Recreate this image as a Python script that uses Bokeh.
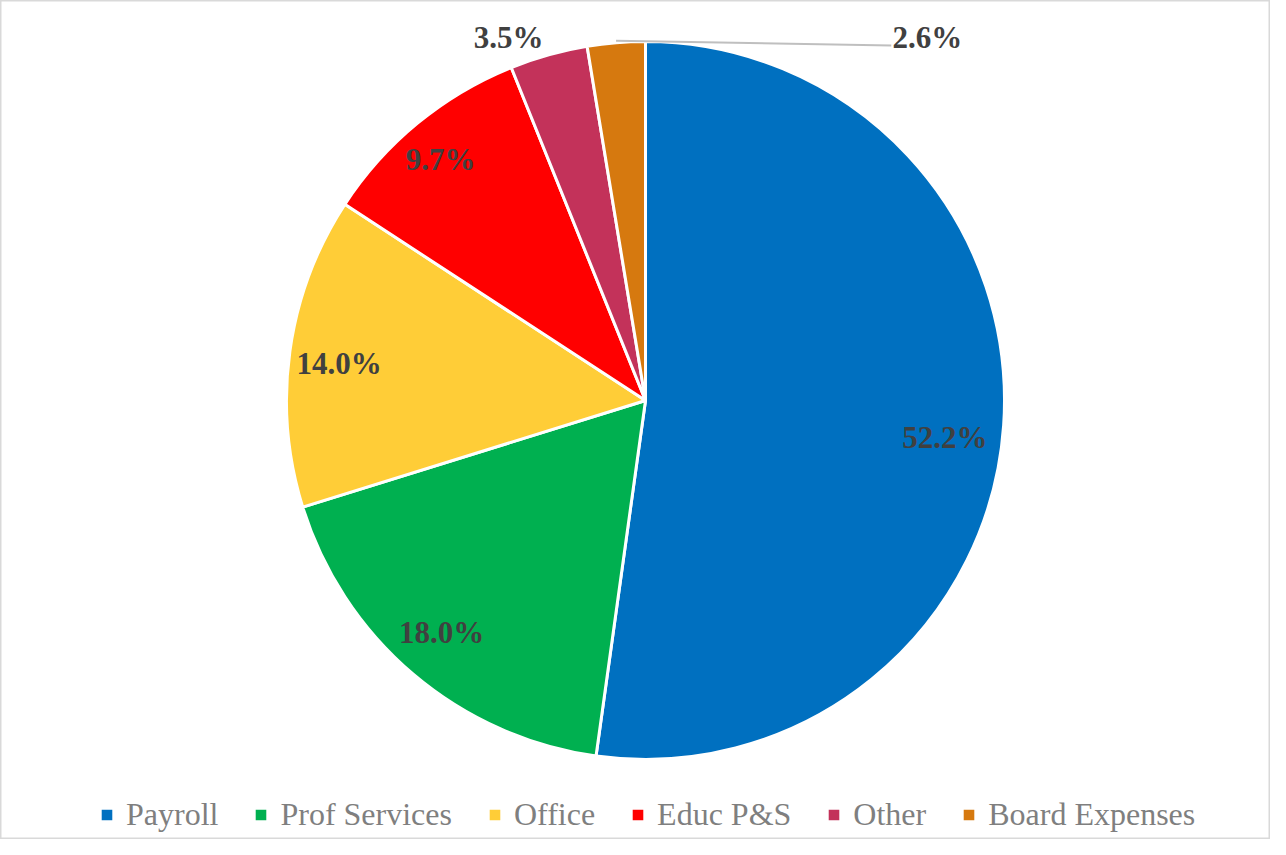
import math
from bokeh.plotting import figure
from bokeh.models import Range1d, ColumnDataSource, Legend, LegendItem
from bokeh.core.properties import value
from bokeh.embed import file_html
from bokeh.resources import INLINE

# ---- data ----
categories = ["Payroll", "Prof Services", "Office", "Educ P&S", "Other", "Board Expenses"]
shares = [52.2, 18.0, 14.0, 9.7, 3.5, 2.6]
colors = ["#0070C0", "#00B050", "#FFCD37", "#FF0000", "#C3325A", "#D6790F"]

# ---- layout (label placement: radius fraction, angle offset in degrees) ----
label_place = [(0.84, 3), (0.86, 1), (0.86, -1), (0.88, -1), (1.08, -5), (1.28, 42.5)]

W, H = 1270, 839
REF_H = 855
CX, CY, R = 645, REF_H - 400, 359

total = sum(shares)
starts, ends, mids = [], [], []
cum = 0.0
for v in shares:
    a0 = cum / total
    cum += v
    a1 = cum / total
    starts.append(math.pi / 2 - 2 * math.pi * a0)
    ends.append(math.pi / 2 - 2 * math.pi * a1)
    mids.append(2 * math.pi * (a0 + a1) / 2)  # clockwise from top

src = ColumnDataSource(dict(cat=categories, start=starts, end=ends, color=colors))

p = figure(width=W, height=H, output_backend="svg", toolbar_location=None,
           x_range=Range1d(0, W), y_range=Range1d(REF_H - H, REF_H), min_border=0,
           background_fill_color="white", border_fill_color="white")
p.axis.visible = False
p.grid.visible = False
p.outline_line_color = "#D9D9D9"
p.outline_line_width = 2

r = p.wedge(x=CX, y=CY, radius=R, start_angle="start", end_angle="end",
            direction="clock", fill_color="color", line_color="white",
            line_width=3, source=src)

# labels
lx, ly, lt = [], [], []
for i, v in enumerate(shares):
    frac, off = label_place[i]
    ang = mids[i] + math.radians(off)
    lx.append(CX + frac * R * math.sin(ang))
    ly.append(CY + frac * R * math.cos(ang))
    lt.append(f"{v:.1f}%")

# leader line for the smallest slice
i = len(shares) - 1
edge_x = CX + (R + 2) * math.sin(mids[i])
edge_y = CY + (R + 2) * math.cos(mids[i])
p.line(x=[edge_x, lx[i] - 36], y=[edge_y, ly[i] - 8], line_color="#BFBFBF", line_width=2)

p.text(x=lx, y=ly, text=lt, text_font=value("Liberation Serif"), text_font_style="bold",
       text_font_size="31px", text_color="#404040", text_align="center",
       text_baseline="middle")

items = [LegendItem(label=c, renderers=[r], index=k) for k, c in enumerate(categories)]
legend = Legend(items=items, orientation="horizontal", location=(98, 6),
                label_text_font="Liberation Serif", label_text_font_size="32px",
                label_text_color="#7F7F7F", glyph_width=17, glyph_height=17,
                label_standoff=11, spacing=34, border_line_alpha=0,
                background_fill_alpha=0, padding=0, margin=0)
p.add_layout(legend, "center")

open("out.html", "w").write(file_html(p, INLINE))
